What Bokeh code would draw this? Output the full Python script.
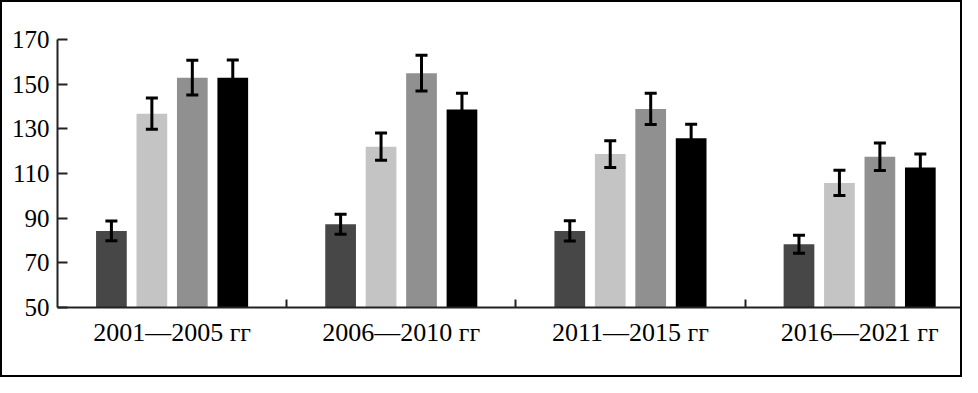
from bokeh.plotting import figure
from bokeh.layouts import column
from bokeh.models import Range1d, FixedTicker, ColumnDataSource, Whisker, TeeHead
from bokeh.embed import file_html
from bokeh.resources import INLINE

# ---- data ----
periods = ["2001—2005 гг", "2006—2010 гг", "2011—2015 гг", "2016—2021 гг"]
series_colors = ["#474747", "#c4c4c4", "#909090", "#000000"]
s1 = [84.3, 87.3, 84.3, 78.3]
s1_err = [4.4, 4.5, 4.5, 4.0]
s2 = [136.8, 122.0, 118.7, 105.8]
s2_err = [7.0, 6.1, 6.0, 5.6]
s3 = [152.9, 154.9, 138.9, 117.5]
s3_err = [7.8, 8.0, 7.0, 6.2]
s4 = [152.9, 138.7, 125.8, 112.7]
s4_err = [7.9, 7.2, 6.2, 6.0]
y_ticks = [50, 70, 90, 110, 130, 150, 170]

series = [(s1, s1_err), (s2, s2_err), (s3, s3_err), (s4, s4_err)]

FONT = "Liberation Serif"
BAR_STEP = 0.1765
BAR_W = 0.134
W, H = 958, 373

p = figure(width=W, height=H, output_backend="svg", toolbar_location=None,
           x_range=Range1d(0, 3.94), y_range=Range1d(50, 170),
           min_border_left=55, min_border_right=0, min_border_top=37,
           min_border_bottom=68, title=None)

centers = [i + 0.5 for i in range(len(periods))]
for k, ((vals, errs), col) in enumerate(zip(series, series_colors)):
    off = (k - 1.5) * BAR_STEP
    xs = [c + off for c in centers]
    src = ColumnDataSource(dict(x=xs, top=vals,
                                upper=[v + e for v, e in zip(vals, errs)],
                                lower=[v - e for v, e in zip(vals, errs)]))
    p.vbar(x="x", top="top", bottom=50, width=BAR_W, source=src,
           fill_color=col, line_color=None)
    w = Whisker(base="x", upper="upper", lower="lower", source=src,
                line_width=3, line_color="black", level="overlay",
                upper_head=TeeHead(size=12, line_width=3, line_color="black"),
                lower_head=TeeHead(size=12, line_width=3, line_color="black"))
    p.add_layout(w)

p.xgrid.grid_line_color = None
p.ygrid.grid_line_color = None
p.outline_line_color = None

# x axis
xa = p.xaxis[0]
xa.ticker = FixedTicker(ticks=centers, minor_ticks=[1, 2, 3])
xa.major_label_overrides = {c: lab for c, lab in zip(centers, periods)}
xa.major_tick_in = 0
xa.major_tick_out = 0
xa.major_tick_line_color = None
xa.minor_tick_in = 8
xa.minor_tick_out = 0
xa.minor_tick_line_width = 2
xa.minor_tick_line_color = "#222222"
xa.axis_line_width = 2
xa.axis_line_color = "#222222"
xa.major_label_text_font = FONT
xa.major_label_text_font_size = "26px"
xa.major_label_text_color = "black"
xa.major_label_standoff = 10

# y axis
ya = p.yaxis[0]
ya.ticker = FixedTicker(ticks=y_ticks)
ya.major_tick_in = 10
ya.major_tick_out = 0
ya.major_tick_line_width = 2
ya.major_tick_line_color = "#222222"
ya.minor_tick_line_color = None
ya.axis_line_width = 2
ya.axis_line_color = "#222222"
ya.major_label_text_font = FONT
ya.major_label_text_font_size = "25px"
ya.major_label_text_color = "black"
ya.major_label_standoff = 8

layout = column(p, styles={"border": "2px solid black"})

open("out.html", "w").write(file_html(layout, INLINE))
